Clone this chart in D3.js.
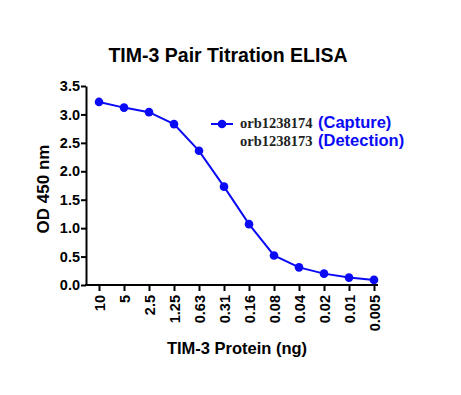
<!DOCTYPE html>
<html>
<head>
<meta charset="utf-8">
<script src="https://cdn.jsdelivr.net/npm/d3@7"></script>
<style>
  body { margin: 0; background: #fff; }
  text { font-family: Arial, "Liberation Sans", sans-serif; font-weight: bold; }
</style>
</head>
<body>
<div id="root"></div>
<script>
const width = 461
const height = 395

const doses = ['10', '5', '2.5', '1.25', '0.63', '0.31', '0.16', '0.08', '0.04', '0.02', '0.01', '0.005']
const od = [3.22, 3.12, 3.04, 2.83, 2.36, 1.73, 1.07, 0.52, 0.31, 0.20, 0.13, 0.09]
const yTicks = [0, 0.5, 1, 1.5, 2, 2.5, 3, 3.5]

const svg = d3.select('#root').append('svg')
  .attr('width', width)
  .attr('height', height)

const x = d3.scalePoint()
  .domain(doses)
  .range([99, 374])

const y = d3.scaleLinear()
  .domain([0, 3.5])
  .range([285, 86])

// y axis
const yAxis = svg.append('g')
  .attr('transform', 'translate(86,0)')
  .call(d3.axisLeft(y).tickValues(yTicks).tickFormat(d3.format('.1f')).tickSize(5).tickSizeOuter(0))
yAxis.select('.domain').attr('stroke-width', 2)
yAxis.selectAll('.tick line').attr('stroke-width', 2)
yAxis.selectAll('.tick text').attr('font-size', 14.5).attr('x', -6)

// x axis
const xAxis = svg.append('g')
  .attr('transform', 'translate(0,285)')
  .call(d3.axisBottom(x).tickSize(6).tickSizeOuter(0))
xAxis.select('.domain').attr('d', 'M85,0H378').attr('stroke-width', 2)
xAxis.selectAll('.tick line').attr('stroke-width', 2)
xAxis.selectAll('.tick text')
  .attr('font-size', 14.5)
  .attr('transform', 'rotate(-90)')
  .attr('text-anchor', 'end')
  .attr('dy', '0.35em')
  .attr('x', -10)
  .attr('y', 0)

// line + points
const color = '#0a0af5'
svg.append('path')
  .datum(od)
  .attr('fill', 'none')
  .attr('stroke', color)
  .attr('stroke-width', 2)
  .attr('d', d3.line().x((d, i) => x(doses[i])).y(d => y(d)))

svg.selectAll('circle.pt')
  .data(od)
  .enter().append('circle')
  .attr('class', 'pt')
  .attr('cx', (d, i) => x(doses[i]))
  .attr('cy', d => y(d))
  .attr('r', 4.3)
  .attr('fill', color)

// title
svg.append('text')
  .attr('x', 228)
  .attr('y', 62)
  .attr('text-anchor', 'middle')
  .attr('font-size', 19.5)
  .text('TIM-3 Pair Titration ELISA')

// axis titles
svg.append('text')
  .attr('transform', 'translate(49,189) rotate(-90)')
  .attr('text-anchor', 'middle')
  .attr('font-size', 17)
  .text('OD 450 nm')

svg.append('text')
  .attr('x', 237)
  .attr('y', 354)
  .attr('text-anchor', 'middle')
  .attr('font-size', 16.5)
  .text('TIM-3 Protein (ng)')

// legend
const lg = svg.append('g')
lg.append('line')
  .attr('x1', 211).attr('x2', 233).attr('y1', 124).attr('y2', 124)
  .attr('stroke', color).attr('stroke-width', 2)
lg.append('circle').attr('cx', 222).attr('cy', 124).attr('r', 4.3).attr('fill', color)

const legendRows = [['orb1238174', '(Capture)', 128], ['orb1238173', '(Detection)', 146]]
legendRows.forEach(r => {
  lg.append('text')
    .attr('x', 240).attr('y', r[2])
    .style('font-family', '"Liberation Serif", "Times New Roman", serif')
    .attr('font-size', 14.5)
    .attr('fill', '#222')
    .text(r[0])
  lg.append('text')
    .attr('x', 318).attr('y', r[2])
    .attr('font-size', 16.5)
    .attr('fill', color)
    .text(r[1])
})
</script>
</body>
</html>
